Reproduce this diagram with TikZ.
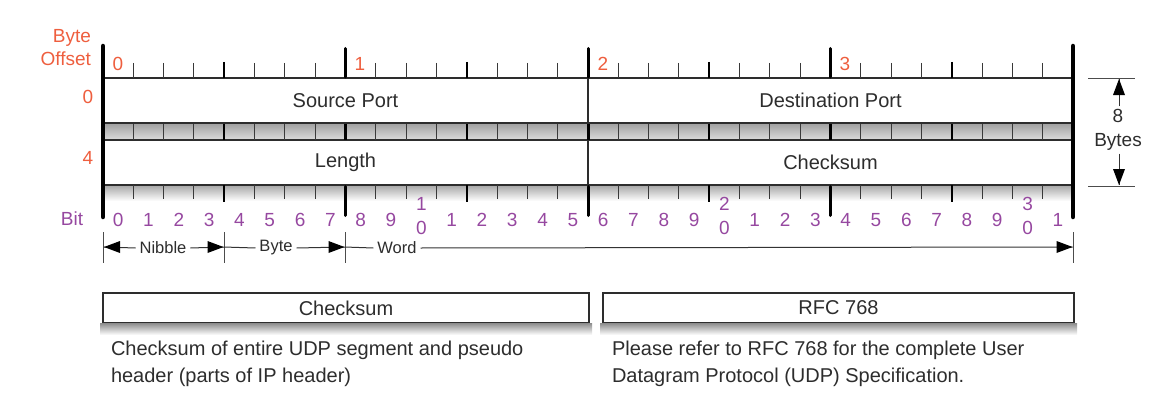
\documentclass[tikz,border=0pt]{standalone}
\usepackage{fontspec}
\setmainfont{Liberation Sans}
\usetikzlibrary{calc}
\definecolor{offc}{RGB}{238,94,62}
\definecolor{bitc}{RGB}{150,72,160}
\definecolor{txt}{RGB}{45,45,45}
\begin{document}
\begin{tikzpicture}[x=1pt,y=1pt,
  every node/.style={inner sep=0pt,outer sep=0pt,text=txt},
  rowbox/.style={draw=gray!35!black,line width=1.2pt,fill=white,minimum height=45pt,minimum width=485pt,anchor=north west,font=\fontsize{20}{24}\selectfont},
  infobox/.style={draw=gray!35!black,line width=1.2pt,fill=white,minimum height=30pt,anchor=north west,font=\fontsize{20}{24}\selectfont},
  offlab/.style={text=offc,font=\fontsize{19}{22}\selectfont},
  bitlab/.style={text=bitc,font=\fontsize{19}{22}\selectfont},
  dimlab/.style={fill=white,inner xsep=4pt,font=\fontsize{16.5}{20}\selectfont},
  captext/.style={align=left,anchor=west,font=\fontsize{20}{26.5}\selectfont},
  smalltick/.style={draw=gray!45!black,line width=0.9pt},
  nibtick/.style={draw=black,line width=2pt},
  bytetick/.style={draw=black,line width=3pt},
  bar/.style={draw=black,line width=4.5pt,line cap=round},
  limit/.style={draw=gray!60!black,line width=1pt},
  dimarrow/.style={draw=black!80,line width=1pt},
  boxshade/.style={top color=gray!85,bottom color=white},
  arrowhead/.pic={\fill[black] (0,0) -- (-16,6) -- (-16,-6) -- cycle;}
]
\useasboundingbox (0,-420) rectangle (1156,0);

% gray rulers
\shade[top color=gray!75,bottom color=gray!28] (103,-123) rectangle (1073,-140);
\shade[top color=gray!70,bottom color=white] (103,-185) rectangle (1073,-201);

% field boxes
\node[rowbox] (sp) at (103,-78) {Source Port};
\node[rowbox] (dp) at (588,-78) {Destination Port};
\node[rowbox] (len) at (103,-140) {Length};
\node[rowbox] (cs) at (588,-140) {Checksum};

% ticks
\foreach \i in {1,...,31}{
  \pgfmathsetmacro\xx{103+30.3125*\i}
  \pgfmathtruncatemacro\mb{mod(\i,8)}
  \pgfmathtruncatemacro\mn{mod(\i,4)}
  \ifnum\mb=0
    \draw[bytetick,line cap=round] (\xx,-48.5) -- (\xx,-77);
    \draw[bytetick] (\xx,-123.5) -- (\xx,-139.5);
    \draw[bytetick,line cap=round] (\xx,-186.5) -- (\xx,-215.5);
  \else\ifnum\mn=0
    \draw[nibtick] (\xx,-62) -- (\xx,-78);
    \draw[nibtick] (\xx,-123.5) -- (\xx,-139.5);
    \draw[nibtick] (\xx,-185) -- (\xx,-202);
  \else
    \draw[smalltick] (\xx,-63) -- (\xx,-78);
    \draw[smalltick] (\xx,-123.5) -- (\xx,-139.5);
    \draw[smalltick] (\xx,-185) -- (\xx,-199);
  \fi\fi
}
\draw[bar] (103,-46) -- (103,-217);
\draw[bar] (1073,-46) -- (1073,-217);

% byte offset labels
\node[offlab,align=right,anchor=east] (boff) at (91,-48) {Byte\\[1pt]Offset};
\node[offlab] (o0) at (118,-64) {0};
\node[offlab] (o1) at (360,-64) {1};
\node[offlab] (o2) at (603,-64) {2};
\node[offlab] (o3) at (845,-64) {3};
\node[offlab] (r0) at (88,-97) {0};
\node[offlab] (r4) at (88,-158) {4};

% bit labels
\node[bitlab] (bitw) at (72,-219) {Bit};
\foreach \i in {0,...,31}{
  \pgfmathsetmacro\xx{103+30.3125*(\i+0.5)}
  \pgfmathtruncatemacro\d{mod(\i,10)}
  \pgfmathtruncatemacro\t{\i/10}
  \ifnum\d=0
    \ifnum\i>0
      \node[bitlab] (bt\i) at (\xx,-204) {\t};
      \node[bitlab] (bz\i) at (\xx,-228) {0};
    \else
      \node[bitlab] (b\i) at (\xx,-220) {\d};
    \fi
  \else
    \node[bitlab] (b\i) at (\xx,-220) {\d};
  \fi
}

% 8 bytes dimension
\draw[limit] (1088,-78) -- (1135,-78);
\draw[limit] (1088,-186) -- (1135,-186);
\coordinate (ebt) at (1119,-79);
\coordinate (ebb) at (1119,-185);
\node[align=center,font=\fontsize{19}{24}\selectfont] (eb) at (1118,-130) {8\\Bytes};
\coordinate (ebn) at ($(eb.north)+(1,3)$);
\coordinate (ebs) at ($(eb.south)+(1,-3)$);
\draw[dimarrow] (ebn) -- (ebt);
\draw[dimarrow] (ebs) -- (ebb);
\pic[rotate=90] at (ebt) {arrowhead};
\pic[rotate=-90] at (ebb) {arrowhead};

% nibble / byte / word
\foreach \xx in {103,224,345,1073}{\draw[limit] (\xx,-232) -- (\xx,-263);}
\coordinate (n0) at (104,-247);
\coordinate (n1) at (223.5,-247);
\coordinate (n2) at (344.5,-247);
\coordinate (n3) at (1072.5,-247);
\node[dimlab] (nib) at (163,-248) {Nibble};
\node[dimlab] (byt) at (276,-248) {Byte};
\node[dimlab] (wrd) at (397,-248) {Word};
\draw[dimarrow] (nib.west) -- (n0);
\draw[dimarrow] (nib.east) -- (n1);
\draw[dimarrow] (n1) -- (byt.west);
\draw[dimarrow] (byt.east) -- (n2);
\draw[dimarrow] (n2) -- (wrd.west);
\draw[dimarrow] (wrd.east) -- (n3);
\pic[rotate=180] at (n0) {arrowhead};
\pic at (n1) {arrowhead};
\pic at (n2) {arrowhead};
\pic at (n3) {arrowhead};

% info boxes
\node[infobox,minimum width=486pt] (ckb) at (103,-293) {Checksum};
\node[infobox,minimum width=471pt] (rfcb) at (603,-293) {RFC 768};
\shade[boxshade] ($(ckb.south west)+(-3,-0.7)$) rectangle ($(ckb.south east)+(3,-12)$);
\shade[boxshade] ($(rfcb.south west)+(-3,-0.7)$) rectangle ($(rfcb.south east)+(3,-12)$);
\node[captext] (ckd) at (111,-364) {Checksum of entire UDP segment and pseudo\\header (parts of IP header)};
\node[captext] (rfcd) at (612,-364) {Please refer to RFC 768 for the complete User\\Datagram Protocol (UDP) Specification.};
\end{tikzpicture}
\end{document}
